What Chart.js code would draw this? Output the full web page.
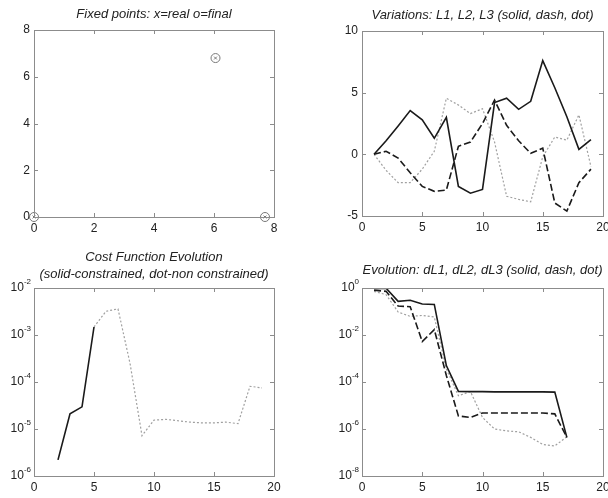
<!DOCTYPE html>
<html><head><meta charset="utf-8">
<script src="https://cdn.jsdelivr.net/npm/chart.js@4"></script>
<style>
html,body{margin:0;padding:0;background:#fff;width:608px;height:498px;overflow:hidden;position:relative;}
.p{position:absolute;}
canvas{display:block;}
</style></head><body>
<div class="p" style="left:0;top:0"><canvas id="c1" width="304" height="249"></canvas></div>
<div class="p" style="left:304px;top:0"><canvas id="c2" width="320" height="249"></canvas></div>
<div class="p" style="left:0;top:249px"><canvas id="c3" width="304" height="249"></canvas></div>
<div class="p" style="left:304px;top:249px"><canvas id="c4" width="320" height="249"></canvas></div>
<script>
// ---------- data ----------
const fixedRealX = [0, 6.05, 7.7];
const fixedRealY = [0, 6.8, 0];
const fixedFinalX = [0, 6.05, 7.7];
const fixedFinalY = [0, 6.8, 0];

const iterX = [1,2,3,4,5,6,7,8,9,10,11,12,13,14,15,16,17,18,19];
const L1 = [0, 1.1, 2.3, 3.55, 2.8, 1.3, 3.0, -2.6, -3.15, -2.85, 4.2, 4.55, 3.65, 4.3, 7.6, 5.4, 3.05, 0.4, 1.2];
const L2 = [0, 0.25, -0.3, -1.5, -2.6, -3.0, -2.9, 0.65, 1.0, 2.5, 4.4, 2.35, 1.1, 0.08, 0.5, -3.95, -4.6, -2.3, -1.2];
const L3 = [0, -1.3, -2.3, -2.3, -1.2, 0.25, 4.55, 4.0, 3.3, 3.7, 1.0, -3.4, -3.65, -3.85, -0.2, 1.4, 1.15, 3.2, -1.0];

const costConX = [2, 3, 4, 5];
const costCon = [2.2e-6, 2.1e-5, 2.96e-5, 1.48e-3];
const costFreeX = [5,6,7,8,9,10,11,12,13,14,15,16,17,18,19];
const costFree = [1.48e-3, 3.2e-3, 3.6e-3, 2.5e-4, 7.2e-6, 1.55e-5, 1.6e-5, 1.5e-5, 1.4e-5, 1.35e-5, 1.35e-5, 1.4e-5, 1.3e-5, 8.1e-5, 7.5e-5];

const dIterX = [1,2,3,4,5,6,7,8,9,10,11,12,13,14,15,16,17];
const dL1 = [0.93, 0.98, 0.27, 0.30, 0.21, 0.20, 5e-4, 4e-5, 3.9e-5, 3.9e-5, 3.8e-5, 3.8e-5, 3.8e-5, 3.8e-5, 3.8e-5, 3.7e-5, 4.4e-7];
const dL2 = [0.8, 0.72, 0.17, 0.16, 5.3e-3, 1.7e-2, 1.9e-4, 3.6e-6, 3.1e-6, 4.8e-6, 4.8e-6, 4.8e-6, 4.8e-6, 4.8e-6, 4.8e-6, 4.4e-6, 4.4e-7];
const dL3 = [0.72, 0.52, 0.095, 0.062, 0.068, 0.058, 3.6e-4, 2.6e-5, 3.9e-5, 3.1e-6, 1.0e-6, 8.3e-7, 7.6e-7, 4.4e-7, 2.2e-7, 1.9e-7, 4.7e-7];

const costTicks = [1e-6, 1e-5, 1e-4, 1e-3, 1e-2];
const dTicks = [1e-8, 1e-6, 1e-4, 1e-2, 1e0];

const titles1 = ["Fixed points: x=real o=final"];
const titles2 = ["Variations: L1, L2, L3 (solid, dash, dot)"];
const titles3 = ["Cost Function Evolution", "(solid-constrained, dot-non constrained)"];
const titles4 = ["Evolution: dL1, dL2, dL3 (solid, dash, dot)"];

// ---------- helpers ----------
const pts = (xs, ys) => xs.map((x, i) => ({x: x, y: ys[i]}));
const FONT = '"Liberation Sans", Arial, sans-serif';

Chart.defaults.font.family = FONT;
Chart.defaults.font.size = 12;
Chart.defaults.color = '#222';

const framePlugin = {
  id: 'frame',
  afterDatasetsDraw(chart, args, opts) {
    const ctx = chart.ctx, a = chart.chartArea;
    const L = 4;
    ctx.save();
    ctx.strokeStyle = '#8c8c8c';
    ctx.lineWidth = 1;
    ctx.beginPath();
    const sx = chart.scales.x, sy = chart.scales.y;
    sx.ticks.forEach(t => {
      const px = Math.round(sx.getPixelForValue(t.value)) + 0.5;
      ctx.moveTo(px, a.bottom); ctx.lineTo(px, a.bottom - L);
      ctx.moveTo(px, a.top); ctx.lineTo(px, a.top + L);
    });
    sy.ticks.forEach(t => {
      const py = Math.round(sy.getPixelForValue(t.value)) + 0.5;
      ctx.moveTo(a.left, py); ctx.lineTo(a.left + L, py);
      ctx.moveTo(a.right, py); ctx.lineTo(a.right - L, py);
    });
    ctx.stroke();
    ctx.strokeRect(Math.round(a.left) + 0.5, Math.round(a.top) + 0.5, Math.round(a.right - a.left), Math.round(a.bottom - a.top));
    // log-axis labels: "10" with a raised small exponent
    if (sy.type === 'logarithmic') {
      ctx.fillStyle = '#222';
      ctx.textBaseline = 'middle';
      sy.ticks.forEach(t => {
        const py = sy.getPixelForValue(t.value);
        const exp = String(Math.round(Math.log10(t.value)));
        ctx.font = '8px ' + FONT;
        const ew = ctx.measureText(exp).width;
        const right = a.left - 3;
        ctx.textAlign = 'left';
        ctx.fillText(exp, right - ew, py - 6);
        ctx.font = '12px ' + FONT;
        ctx.textAlign = 'right';
        ctx.fillText('10', right - ew, py);
      });
    }
    ctx.fillStyle = '#222';
    ctx.font = 'italic 13px ' + FONT;
    ctx.textAlign = 'center';
    ctx.textBaseline = 'middle';
    const cx = (a.left + a.right) / 2;
    (opts.lines || []).forEach((s, i) => ctx.fillText(s, cx, opts.ys[i]));
    ctx.restore();
  }
};

function linAxis(min, max, step, fitSize, isX) {
  return {
    type: 'linear', min: min, max: max,
    grid: {display: false, drawTicks: false}, border: {display: false},
    ticks: {stepSize: step, padding: isX ? 4 : 4, color: '#222', font: {size: 12}},
    afterFit: s => { if (isX) s.height = fitSize; else s.width = fitSize; }
  };
}
function logAxis(min, max, tickVals, fitSize) {
  return {
    type: 'logarithmic', min: min, max: max,
    grid: {display: false, drawTicks: false}, border: {display: false},
    ticks: {display: false},
    afterBuildTicks: s => { s.ticks = tickVals.map(v => ({value: v})); },
    afterFit: s => { s.width = fitSize; }
  };
}
const baseOpts = (pad, xAx, yAx, lines, ys) => ({
  responsive: false, animation: false, events: [],
  layout: {padding: pad},
  scales: {x: xAx, y: yAx},
  plugins: {legend: {display: false}, title: {display: false}, tooltip: {enabled: false},
            frame: {lines: lines, ys: ys}}
});
const solid = (data) => ({data: data, borderColor: '#1a1a1a', borderWidth: 1.6, pointRadius: 0, fill: false, tension: 0});
const dashed = (data) => ({data: data, borderColor: '#1a1a1a', borderWidth: 1.6, borderDash: [7, 3], pointRadius: 0, fill: false, tension: 0});
const dotted = (data) => ({data: data, borderColor: '#a0a0a0', borderWidth: 1.2, borderDash: [2, 2], pointRadius: 0, fill: false, tension: 0});

// Panel 1
new Chart(document.getElementById('c1'), {
  type: 'scatter',
  data: {datasets: [
    {data: pts(fixedFinalX, fixedFinalY), pointStyle: 'circle', pointRadius: 4.5, borderColor: '#777', backgroundColor: 'rgba(0,0,0,0)', borderWidth: 1, clip: false},
    {data: pts(fixedRealX, fixedRealY), pointStyle: 'crossRot', pointRadius: 2, borderColor: '#777', borderWidth: 1, clip: false}
  ]},
  options: baseOpts({top: 30, right: 30, left: 0, bottom: 0}, linAxis(0, 8, 2, 32, true), linAxis(0, 8, 2, 34, false), titles1, [14]),
  plugins: [framePlugin]
});

// Panel 2
new Chart(document.getElementById('c2'), {
  type: 'line',
  data: {datasets: [solid(pts(iterX, L1)), dashed(pts(iterX, L2)), dotted(pts(iterX, L3))]},
  options: baseOpts({top: 31, right: 21, left: 0, bottom: 0}, linAxis(0, 20, 5, 33, true), linAxis(-5, 10, 5, 58, false), titles2, [15]),
  plugins: [framePlugin]
});

// Panel 3
new Chart(document.getElementById('c3'), {
  type: 'line',
  data: {datasets: [solid(pts(costConX, costCon)), dotted(pts(costFreeX, costFree))]},
  options: baseOpts({top: 39, right: 30, left: 0, bottom: 0}, linAxis(0, 20, 5, 22, true), logAxis(1e-6, 1e-2, costTicks, 34), titles3, [8, 25]),
  plugins: [framePlugin]
});

// Panel 4
new Chart(document.getElementById('c4'), {
  type: 'line',
  data: {datasets: [solid(pts(dIterX, dL1)), dashed(pts(dIterX, dL2)), dotted(pts(dIterX, dL3))]},
  options: baseOpts({top: 39, right: 21, left: 0, bottom: 0}, linAxis(0, 20, 5, 22, true), logAxis(1e-8, 1e0, dTicks, 58), titles4, [21]),
  plugins: [framePlugin]
});
</script>
</body></html>
